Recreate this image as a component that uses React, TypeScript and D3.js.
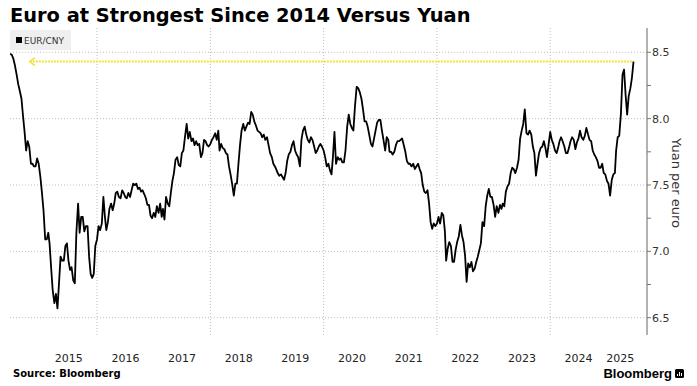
import React from "react";
import * as d3 from "d3";

const years = [2014, 2015, 2016, 2017, 2018, 2019, 2020, 2021, 2022, 2023, 2024, 2025];
const firstSlot2014 = 17; // series starts 21 June 2014

const eurCny2014 = [8.49, 8.48, 8.45, 8.40, 8.33, 8.26, 8.21, 8.15, 8.02, 7.90, 7.76, 7.83, 7.79, 7.66, 7.66, 7.64, 7.64, 7.70, 7.66];
const eurCny2015 = [7.56, 7.44, 7.31, 7.09, 7.09, 7.14, 7.06, 6.88, 6.71, 6.61, 6.68, 6.57, 6.76, 6.96, 6.93, 6.93, 7.04, 7.06, 6.93, 6.86, 6.88, 6.78, 6.76, 7.14, 7.36, 7.14, 7.26, 7.26, 7.15, 7.19, 7.19, 6.96, 6.83, 6.80, 6.83, 7.04];
const eurCny2016 = [7.09, 7.19, 7.16, 7.21, 7.41, 7.26, 7.16, 7.22, 7.32, 7.36, 7.31, 7.36, 7.44, 7.45, 7.41, 7.40, 7.46, 7.44, 7.41, 7.40, 7.44, 7.41, 7.46, 7.51, 7.50, 7.51, 7.47, 7.48, 7.45, 7.46, 7.43, 7.40, 7.35, 7.35, 7.27, 7.25];
const eurCny2017 = [7.29, 7.26, 7.34, 7.29, 7.36, 7.26, 7.32, 7.24, 7.41, 7.36, 7.34, 7.44, 7.53, 7.59, 7.69, 7.71, 7.65, 7.64, 7.74, 7.76, 7.86, 7.96, 7.85, 7.90, 7.83, 7.85, 7.80, 7.83, 7.80, 7.81, 7.71, 7.74, 7.84, 7.83, 7.80, 7.79];
const eurCny2018 = [7.81, 7.84, 7.86, 7.89, 7.84, 7.91, 7.76, 7.81, 7.78, 7.77, 7.74, 7.73, 7.64, 7.58, 7.51, 7.42, 7.51, 7.51, 7.66, 7.80, 7.91, 7.96, 7.91, 7.94, 7.97, 7.96, 8.05, 8.03, 7.98, 7.95, 7.91, 7.90, 7.89, 7.86, 7.88, 7.84];
const eurCny2019 = [7.86, 7.80, 7.74, 7.71, 7.66, 7.64, 7.62, 7.59, 7.57, 7.58, 7.56, 7.54, 7.59, 7.68, 7.73, 7.75, 7.80, 7.83, 7.76, 7.73, 7.71, 7.64, 7.84, 7.91, 7.94, 7.88, 7.84, 7.82, 7.86, 7.84, 7.79, 7.74, 7.76, 7.79, 7.81, 7.79];
const eurCny2020 = [7.76, 7.71, 7.64, 7.66, 7.61, 7.58, 7.71, 7.90, 7.66, 7.71, 7.69, 7.70, 7.67, 7.67, 7.76, 7.94, 8.03, 7.96, 7.93, 7.91, 8.09, 8.24, 8.23, 8.20, 8.15, 8.07, 7.98, 7.98, 7.94, 7.88, 7.81, 7.79, 7.85, 7.91, 7.97, 7.99];
const eurCny2021 = [7.99, 7.91, 7.84, 7.76, 7.86, 7.84, 7.75, 7.75, 7.73, 7.75, 7.80, 7.83, 7.83, 7.84, 7.85, 7.80, 7.75, 7.68, 7.66, 7.66, 7.64, 7.66, 7.62, 7.64, 7.66, 7.62, 7.59, 7.50, 7.45, 7.44, 7.46, 7.36, 7.22, 7.17, 7.21, 7.19];
const eurCny2022 = [7.21, 7.26, 7.21, 7.29, 7.27, 7.15, 6.93, 7.02, 7.07, 7.04, 6.92, 6.92, 7.01, 7.07, 7.11, 7.20, 7.12, 7.07, 6.97, 6.77, 6.91, 6.88, 6.92, 6.85, 6.87, 6.92, 6.96, 7.01, 7.06, 7.22, 7.19, 7.34, 7.42, 7.47, 7.41, 7.41];
const eurCny2023 = [7.35, 7.26, 7.34, 7.29, 7.35, 7.32, 7.36, 7.34, 7.45, 7.49, 7.51, 7.59, 7.63, 7.62, 7.59, 7.63, 7.69, 7.85, 7.91, 7.96, 8.07, 7.89, 7.88, 7.91, 7.88, 7.79, 7.74, 7.57, 7.66, 7.74, 7.78, 7.79, 7.83, 7.78, 7.71, 7.80];
const eurCny2024 = [7.90, 7.84, 7.81, 7.76, 7.74, 7.78, 7.83, 7.86, 7.83, 7.79, 7.74, 7.74, 7.78, 7.83, 7.86, 7.84, 7.77, 7.82, 7.85, 7.91, 7.86, 7.84, 7.87, 7.93, 7.88, 7.84, 7.83, 7.76, 7.73, 7.71, 7.68, 7.63, 7.63, 7.66, 7.59, 7.58];
const eurCny2025 = [7.53, 7.51, 7.42, 7.54, 7.58, 7.59, 7.76, 7.86, 7.87, 8.04, 8.33, 8.37, 8.18, 8.03, 8.17, 8.23, 8.31, 8.43];

const seriesByYear = [eurCny2014, eurCny2015, eurCny2016, eurCny2017, eurCny2018, eurCny2019,
  eurCny2020, eurCny2021, eurCny2022, eurCny2023, eurCny2024, eurCny2025];

const yTicks = [6.5, 7.0, 7.5, 8.0, 8.5];
const yMinorTicks = [6.5, 6.75, 7.0, 7.25, 7.5, 7.75, 8.0, 8.25, 8.5];
const yearLabels = [2015, 2016, 2017, 2018, 2019, 2020, 2021, 2022, 2023, 2024, 2025];
const gridYears = [2016, 2018, 2020, 2022, 2024];
const arrowStart = new Date(2014, 9, 25);

const W = 697;
const H = 386;
const M = { top: 28, right: 50, bottom: 51, left: 10 };

const points: { date: Date; value: number }[] = [];
seriesByYear.forEach((vals, yi) => {
  const offset = yi === 0 ? firstSlot2014 : 0;
  vals.forEach((v, i) => {
    const slot = i + offset;
    points.push({
      date: new Date(years[yi], Math.floor(slot / 3), 1 + (slot % 3) * 10),
      value: v,
    });
  });
});

const font = "'DejaVu Sans', Verdana, sans-serif";

export default function App() {
  const x = d3.scaleTime()
    .domain([new Date(2014, 5, 19), new Date(2025, 8, 16)])
    .range([M.left, W - M.right]);
  const y = d3.scaleLinear().domain([6.5, 8.5]).range([317.7, 52.3]);

  const line = d3.line<{ date: Date; value: number }>()
    .x((d) => x(d.date))
    .y((d) => y(d.value));

  const last = points[points.length - 1];
  const axisX = W - M.right;
  const yLevel = y(last.value);
  const ax0 = x(arrowStart);

  return (
    <svg width={W} height={H} style={{ position: "absolute", left: 0, top: 0, background: "#fff" }}
      fontFamily={font}>
      {/* title */}
      <text x={10} y={22} fontSize={19.4} fontWeight="bold" fill="#000">
        Euro at Strongest Since 2014 Versus Yuan
      </text>

      {/* grid */}
      {yTicks.map((t) => (
        <line key={"h" + t} x1={M.left} x2={axisX} y1={y(t)} y2={y(t)}
          stroke="#bdbdbd" strokeDasharray="1,2" />
      ))}
      {gridYears.map((yr) => (
        <line key={"v" + yr} x1={x(new Date(yr, 0, 1))} x2={x(new Date(yr, 0, 1))}
          y1={M.top} y2={H - M.bottom} stroke="#bdbdbd" strokeDasharray="1,2" />
      ))}

      {/* legend */}
      <rect x={10} y={30} width={61} height={20} fill="#efefef" />
      <rect x={16} y={37} width={6} height={6} fill="#000" />
      <text x={24} y={44} fontSize={9} fill="#333">EUR/CNY</text>

      {/* yellow reference arrow */}
      <line x1={ax0} x2={x(last.date)} y1={yLevel} y2={yLevel}
        stroke="#f3e33c" strokeWidth={2} strokeDasharray="2,1" />
      <path d={`M${ax0 + 5},${yLevel - 4} L${ax0},${yLevel} L${ax0 + 5},${yLevel + 4}`}
        fill="none" stroke="#f3e33c" strokeWidth={1.6} />

      {/* series */}
      <path d={line(points) ?? ""} fill="none" stroke="#000" strokeWidth={1.8} strokeLinejoin="round" />

      {/* right axis */}
      <line x1={axisX} x2={axisX} y1={M.top} y2={H - M.bottom} stroke="#999" strokeWidth={1.5} />
      {yMinorTicks.map((t) => (
        <line key={"t" + t} x1={axisX} x2={axisX + 4} y1={y(t)} y2={y(t)} stroke="#777" />
      ))}
      {yTicks.map((t) => (
        <text key={"l" + t} x={axisX + 5} y={y(t)} dy="0.35em" fontSize={11} fill="#333">
          {t.toFixed(1)}
        </text>
      ))}
      <text transform={`translate(${677},${183}) rotate(90)`} textAnchor="middle" dy="0.35em"
        fontSize={13} fill="#333">
        Yuan per euro
      </text>

      {/* year labels */}
      {yearLabels.map((yr) => {
        const start = x(new Date(yr, 0, 1));
        const end = yr === 2025 ? x(last.date) : x(new Date(yr + 1, 0, 1));
        return (
          <text key={"y" + yr} x={(start + end) / 2} y={362} textAnchor="middle" fontSize={11} fill="#222">
            {yr}
          </text>
        );
      })}

      {/* footer */}
      <text x={13} y={377} fontSize={10} fontWeight="bold" fill="#000">Source: Bloomberg</text>
      <text x={672} y={378} textAnchor="end" fontSize={13} fontWeight="bold" fill="#000"
        fontFamily="'Liberation Sans', Arial, sans-serif">
        Bloomberg
      </text>
      <rect x={675} y={369} width={9} height={9} rx={1.5} fill="#000" />
      <path d="M677.5,376 v-2 M679.5,376 v-4 M681.5,376 v-3" stroke="#fff" strokeWidth={1} />
    </svg>
  );
}
